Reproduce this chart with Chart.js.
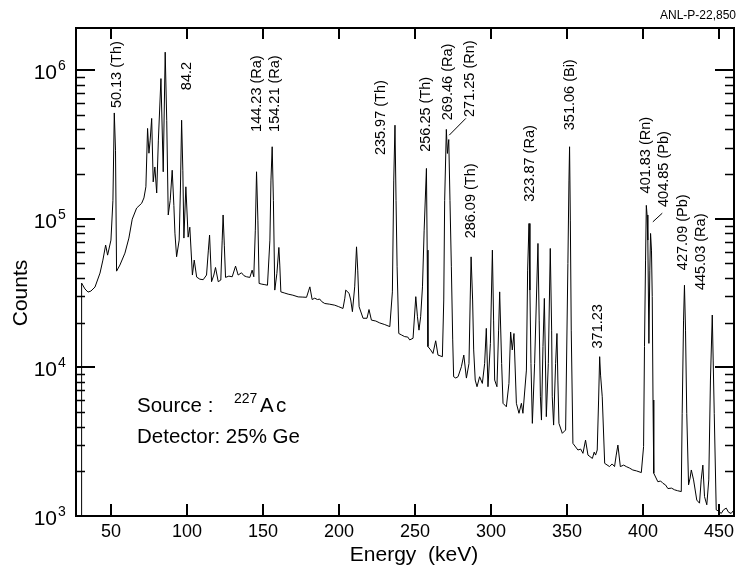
<!DOCTYPE html>
<html>
<head>
<meta charset="utf-8">
<script src="https://cdn.jsdelivr.net/npm/chart.js"></script>
<style>
  body { margin: 0; background: #fff; }
  #wrap { width: 738px; height: 565px; }
</style>
</head>
<body>
<div id="wrap"><canvas id="spectrum" width="738" height="565"></canvas></div>
<script>
// gamma spectrum of 227Ac (energy in keV, counts per channel)
const energyKeV = [
  30.6, 30.7, 32.9, 34.9, 36.8, 39.5, 42.8, 44.7, 46.5, 47.8,
  50.0, 51.3, 52.2, 53.0, 53.7, 55.9, 59.2, 61.8, 64.0, 66.9,
  70.2, 71.7, 73.0, 74.1, 75.0, 75.8, 76.8, 77.8, 78.9, 80.1,
  81.2, 82.9, 84.4, 85.7, 86.7, 87.7, 89.0, 90.3, 91.4, 92.1,
  93.2, 94.9, 95.7, 96.5, 97.3, 98.0, 99.3, 100.8, 101.9, 103.6,
  104.8, 106.4, 108.5, 110.7, 112.9, 114.1, 114.9, 116.2, 117.7, 118.8,
  120.6, 122.3, 123.2, 123.8, 124.6, 125.4, 127.6, 129.8, 132.0, 133.7,
  135.9, 137.5, 139.2, 141.4, 142.9, 144.0, 145.0, 145.8, 146.7, 147.5,
  149.3, 151.3, 153.0, 154.6, 155.3, 156.1, 156.9, 157.8, 159.2, 160.5,
  161.1, 161.8, 164.4, 166.6, 169.7, 173.2, 176.3, 178.7, 180.2, 180.9,
  182.4, 184.1, 185.9, 187.4, 188.7, 190.7, 194.0, 197.3, 199.9, 202.7,
  203.9, 204.5, 206.7, 207.8, 208.9, 210.4, 211.6, 212.4, 213.3, 215.9,
  218.5, 219.8, 221.4, 224.3, 226.9, 230.2, 233.5, 235.2, 236.1, 236.9,
  237.6, 238.3, 239.4, 241.3, 243.3, 245.3, 246.6, 248.8, 250.6, 251.7,
  252.7, 253.8, 255.0, 256.1, 257.6, 258.1, 258.6, 260.4, 261.9, 263.7,
  265.2, 268.1, 269.0, 269.6, 270.7, 271.4, 272.3, 273.1, 274.0, 274.9,
  275.5, 276.9, 278.4, 280.6, 282.2, 283.9, 285.6, 286.4, 287.0, 288.0,
  288.7, 289.7, 290.9, 292.6, 294.4, 295.9, 297.0, 298.1, 299.7, 301.0,
  301.8, 302.5, 304.0, 305.1, 305.8, 307.1, 308.0, 309.1, 310.2, 311.9,
  313.0, 314.1, 315.2, 316.8, 318.5, 320.1, 321.1, 323.4, 324.2, 325.1,
  325.7, 326.4, 327.3, 328.8, 331.0, 331.8, 332.6, 333.3, 334.3, 335.2,
  335.9, 336.5, 337.8, 339.1, 340.0, 340.4, 341.3, 342.6, 343.5, 344.1,
  344.8, 347.0, 349.2, 350.7, 351.4, 351.8, 352.3, 352.9, 354.0, 357.3,
  359.1, 360.6, 362.3, 363.9, 366.8, 368.0, 368.9, 370.0, 370.9, 371.6,
  372.2, 373.3, 374.9, 378.1, 379.8, 381.4, 382.5, 383.6, 385.2, 387.4,
  389.1, 391.3, 393.4, 395.9, 399.0, 400.5, 401.1, 401.8, 402.3, 402.8,
  403.3, 404.0, 404.6, 405.1, 405.7, 406.2, 406.7, 407.2, 409.9, 411.7,
  413.2, 414.9, 416.5, 418.9, 420.9, 422.8, 425.3, 425.9, 426.8, 427.4,
  428.1, 428.9, 430.1, 431.1, 431.9, 433.4, 435.5, 437.3, 438.4, 439.5,
  440.6, 442.1, 443.4, 444.5, 445.7, 446.3, 447.0, 448.3, 449.8, 451.6,
  453.1, 454.9, 456.4, 458.1, 460.0
];
const counts = [
  1000, 36900, 33700, 32100, 32600, 34700, 43100, 52700, 66500, 56900,
  71800, 133000, 515000, 289000, 44400, 48800, 58700, 74100, 99300, 118000,
  127000, 138000, 164000, 405000, 276000, 338000, 473000, 177000, 223000, 149000,
  338000, 877000, 207000, 1320000, 460000, 106000, 133000, 212000, 123000, 80000,
  55500, 71800, 156000, 460000, 212000, 74100, 164000, 75200, 87700, 41800,
  52700, 40500, 39200, 38900, 41800, 61500, 77700, 37700, 41800, 47000,
  37700, 38700, 71800, 106000, 66400, 40300, 41100, 40700, 48000, 41800,
  43300, 41400, 40700, 40300, 45100, 40700, 83800, 207000, 97900, 36700,
  36300, 36000, 35700, 71800, 182000, 305000, 133000, 33100, 42900, 64100,
  48800, 32200, 31600, 31100, 30600, 29800, 29700, 29600, 33100, 34800,
  28600, 29200, 28600, 28800, 27700, 26900, 26600, 26200, 25600, 24900,
  29200, 33100, 31500, 28400, 23700, 34800, 64700, 45100, 25600, 21400,
  21400, 24500, 20800, 20500, 19900, 19400, 18800, 32200, 182000, 426000,
  133000, 47500, 16900, 16500, 16100, 16000, 15300, 15700, 29900, 21900,
  17800, 21900, 34800, 83800, 218000, 61500, 13800, 13100, 12400, 15100,
  12100, 11800, 28400, 133000, 399000, 275000, 341000, 133000, 47500, 15300,
  8650, 8480, 8650, 10100, 12100, 8470, 10600, 28400, 55400, 28400,
  13100, 8220, 7410, 8650, 7800, 10600, 18300, 7410, 14500, 61500,
  20800, 8220, 7410, 17800, 32200, 10600, 5730, 5580, 5430, 7800,
  17300, 13100, 16900, 5730, 4910, 5730, 4910, 9590, 45100, 92900,
  33100, 10600, 4200, 10600, 68200, 20800, 6340, 4420, 13800, 29100,
  11200, 4660, 10600, 63100, 17800, 6340, 4090, 10600, 16900, 8220,
  4200, 3600, 3790, 50000, 182000, 305000, 97900, 17800, 3080, 2780,
  2820, 2640, 3240, 2570, 2440, 2690, 2570, 2780, 6030, 11800,
  8870, 6340, 2260, 2150, 2240, 2150, 2570, 3000, 2150, 2200,
  2150, 2100, 2040, 2010, 1960, 2930, 13800, 52700, 123000, 106000,
  71800, 14500, 45100, 79600, 61500, 29900, 6030, 1940, 1700, 1720,
  1660, 1620, 1530, 1540, 1500, 1480, 1460, 4910, 20800, 35700,
  17800, 4910, 1620, 1800, 2040, 1750, 1280, 1220, 1750, 2200,
  1350, 1190, 1750, 8220, 22500, 11200, 4910, 1100, 1080, 1040,
  1100, 1130, 1060, 1040, 1100
];

const xTicks = [50, 100, 150, 200, 250, 300, 350, 400, 450];
const yDecades = [1e3, 1e4, 1e5, 1e6];
const yExponents = ['3', '4', '5', '6'];
const minorSteps = [2, 3, 4, 5, 6, 7, 8, 9];

const peakLabels = ['50.13 (Th)', '84.2', '144.23 (Ra)', '154.21 (Ra)', '235.97 (Th)',
  '256.25 (Th)', '269.46 (Ra)', '271.25 (Rn)', '286.09 (Th)', '323.87 (Ra)',
  '351.06 (Bi)', '371.23', '401.83 (Rn)', '404.85 (Pb)', '427.09 (Pb)', '445.03 (Ra)'];

// where each label starts (bottom of the rotated text), in keV / counts
const labelSpots = [[53.7, 555000], [99.8, 733000], [145.8, 384000], [157.8, 384000], [228.0, 268000],
  [257.6, 282000], [271.8, 460000], [286.1, 484000], [287.2, 73800], [325.5, 130000],
  [351.8, 394000], [370.4, 13400], [402.3, 148000], [413.8, 120000], [426.3, 45100], [438.4, 33100]];

// small leader strokes from a label to its peak
const leaders = [[[272.6, 365000], [283.5, 473000]], [[406.6, 95300], [412.8, 109000]]];

const FONT = '"Liberation Sans", Arial, Helvetica, sans-serif';

const decorPlugin = {
    id: 'decor',
    afterDraw(chart) {
        const ctx = chart.ctx;
        const a = chart.chartArea;
        const xs = chart.scales.x;
        const ys = chart.scales.y;
        ctx.save();
        ctx.strokeStyle = '#000';
        ctx.fillStyle = '#000';

        // frame
        ctx.lineWidth = 2;
        ctx.strokeRect(a.left, a.top, a.right - a.left, a.bottom - a.top);

        // x ticks (inside, top and bottom) and labels
        ctx.font = '18px ' + FONT;
        ctx.textAlign = 'center';
        ctx.textBaseline = 'alphabetic';
        xTicks.forEach(v => {
            const px = Math.round(xs.getPixelForValue(v));
            ctx.beginPath();
            ctx.moveTo(px, a.bottom); ctx.lineTo(px, a.bottom - 12);
            ctx.moveTo(px, a.top); ctx.lineTo(px, a.top + 11);
            ctx.stroke();
            ctx.fillText(String(v), px, a.bottom + 21);
        });

        // y ticks, major and minor, on both sides
        yDecades.forEach((d, i) => {
            const py = Math.round(ys.getPixelForValue(d));
            ctx.lineWidth = 2;
            ctx.beginPath();
            ctx.moveTo(a.left, py); ctx.lineTo(a.left + 19, py);
            ctx.moveTo(a.right, py); ctx.lineTo(a.right - 19, py);
            ctx.stroke();
            ctx.lineWidth = 1.5;
            minorSteps.forEach(m => {
                const v = d * m;
                if (v > ys.max) return;
                const my = Math.round(ys.getPixelForValue(v)) + 0.5;
                ctx.beginPath();
                ctx.moveTo(a.left, my); ctx.lineTo(a.left + 9, my);
                ctx.moveTo(a.right, my); ctx.lineTo(a.right - 9, my);
                ctx.stroke();
            });
            ctx.textAlign = 'right';
            ctx.font = '21px ' + FONT;
            ctx.fillText('10', 57, py + 9);
            ctx.textAlign = 'left';
            ctx.font = '14px ' + FONT;
            ctx.fillText(yExponents[i], 58, py);
        });

        // axis titles
        ctx.font = '21px ' + FONT;
        ctx.textAlign = 'center';
        ctx.fillText('Energy  (keV)', 414, 561);
        ctx.save();
        ctx.translate(27, 293);
        ctx.rotate(-Math.PI / 2);
        ctx.fillText('Counts', 0, 0);
        ctx.restore();

        // peak labels
        ctx.font = '14.5px ' + FONT;
        ctx.textAlign = 'left';
        ctx.textBaseline = 'middle';
        peakLabels.forEach((t, i) => {
            const px = xs.getPixelForValue(labelSpots[i][0]);
            const py = ys.getPixelForValue(labelSpots[i][1]);
            ctx.save();
            ctx.translate(px, py);
            ctx.rotate(-Math.PI / 2);
            ctx.fillText(t, 0, 0);
            ctx.restore();
        });
        ctx.lineWidth = 1;
        leaders.forEach(([p, q]) => {
            ctx.beginPath();
            ctx.moveTo(xs.getPixelForValue(p[0]), ys.getPixelForValue(p[1]));
            ctx.lineTo(xs.getPixelForValue(q[0]), ys.getPixelForValue(q[1]));
            ctx.stroke();
        });

        // source / detector note
        ctx.textBaseline = 'alphabetic';
        ctx.font = '20.5px ' + FONT;
        ctx.fillText('Source :', 137, 412);
        ctx.fillText('A', 260, 412);
        ctx.fillText('c', 276, 412);
        ctx.fillText('Detector: 25% Ge', 137, 443);
        ctx.font = '14px ' + FONT;
        ctx.fillText('227', 234, 403);

        // figure id
        ctx.font = '12px ' + FONT;
        ctx.textAlign = 'right';
        ctx.fillText('ANL-P-22,850', 736, 19);
        ctx.restore();
    }
};

const ctx = document.getElementById('spectrum').getContext('2d');
const chart = new Chart(ctx, {
    type: 'line',
    data: {
        datasets: [{
            data: energyKeV.map((e, i) => ({ x: e, y: counts[i] })),
            borderColor: '#000',
            borderWidth: 1,
            pointRadius: 0,
            tension: 0,
            fill: false
        }]
    },
    options: {
        responsive: false,
        animation: false,
        layout: { padding: { left: 76, top: 28, right: 4, bottom: 49 } },
        scales: {
            x: { type: 'linear', min: 27, max: 460, display: false },
            y: { type: 'logarithmic', min: 1000, max: 1.92e6, display: false }
        },
        plugins: {
            legend: { display: false },
            tooltip: { enabled: false }
        }
    },
    plugins: [decorPlugin]
});
</script>
</body>
</html>
